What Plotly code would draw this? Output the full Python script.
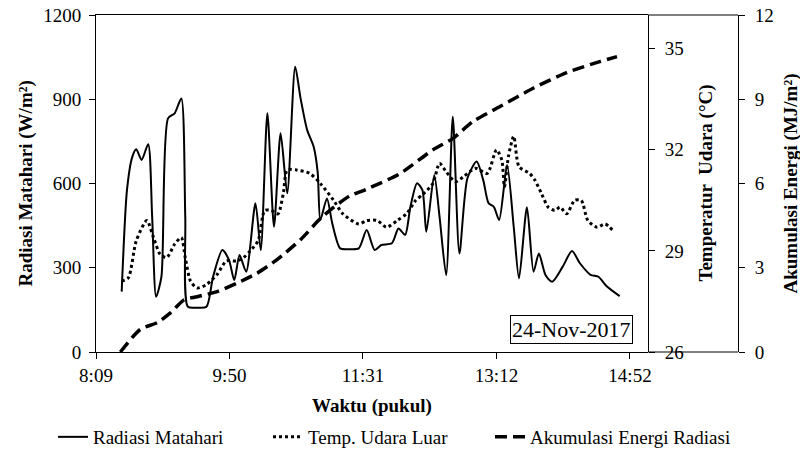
import plotly.graph_objects as go

# ---------------- data ----------------
rad_time = ["8:29", "8:33", "8:37", "8:40", "8:44", "8:49", "8:52", "8:55", "8:59", "9:04",
            "9:09", "9:14", "9:17", "9:19", "9:26", "9:33", "9:38", "9:45", "9:50", "9:54",
            "9:58", "10:03", "10:10", "10:14", "10:19", "10:24", "10:29", "10:34", "10:40", "10:44",
            "10:49", "10:54", "10:57", "10:59", "11:04", "11:08", "11:14", "11:21", "11:28", "11:34",
            "11:40", "11:45", "11:53", "11:58", "12:03", "12:07", "12:12", "12:16", "12:19", "12:25",
            "12:29", "12:34", "12:39", "12:44", "12:50", "12:57", "13:02", "13:06", "13:10", "13:14",
            "13:20", "13:25", "13:29", "13:35", "13:40", "13:44", "13:49", "13:54", "14:02", "14:09",
            "14:15", "14:23", "14:29", "14:35", "14:45"]
rad_val = [215, 577, 695, 722, 684, 740, 482, 197, 268, 832,
           850, 903, 482, 161, 158, 161, 268, 363, 328, 256,
           345, 286, 530, 363, 850, 446, 779, 565, 1016, 905,
           791, 730, 640, 470, 547, 458, 369, 366, 369, 434,
           363, 381, 387, 440, 417, 517, 601, 577, 428, 630,
           482, 274, 838, 351, 618, 678, 612, 530, 517, 470,
           666, 446, 262, 515, 286, 351, 274, 250, 304, 360,
           316, 275, 268, 235, 199]

temp_time = ["8:29", "8:34", "8:40", "8:48", "8:53", "8:58", "9:03", "9:09", "9:14", "9:17",
             "9:21", "9:26", "9:33", "9:41", "9:48", "9:56", "10:01", "10:06", "10:12", "10:17",
             "10:22", "10:27", "10:31", "10:34", "10:41", "10:51", "10:59", "11:09", "11:16", "11:28",
             "11:34", "11:42", "11:49", "11:57", "12:04", "12:11", "12:17", "12:24", "12:29", "12:34",
             "12:41", "12:47", "12:56", "13:05", "13:12", "13:16", "13:18", "13:21", "13:25", "13:29",
             "13:37", "13:41", "13:46", "13:51", "13:56", "14:00", "14:05", "14:11", "14:16", "14:21",
             "14:28", "14:34", "14:40"]
temp_val = [28.1, 28.2, 29.3, 29.9, 29.4, 28.9, 28.8, 29.2, 29.4, 28.8,
            28.1, 27.9, 28.0, 28.3, 28.7, 28.7, 28.8, 29.0, 29.3, 30.2,
            30.2, 30.1, 30.7, 31.4, 31.4, 31.3, 31.0, 30.5, 30.1, 29.8,
            29.9, 29.9, 29.7, 29.9, 30.1, 30.5, 30.7, 31.0, 31.6, 31.35,
            31.05, 31.2, 31.45, 31.3, 32.0, 31.7, 30.9, 31.8, 32.4, 31.5,
            31.3, 31.1, 30.7, 30.3, 30.2, 30.3, 30.1, 30.5, 30.5, 29.9,
            29.7, 29.8, 29.6]

energy_time = ["8:28", "8:43", "8:56", "9:06", "9:16", "9:26", "9:41", "9:56", "10:11", "10:26",
               "10:44", "10:59", "11:09", "11:21", "11:34", "11:59", "12:24", "12:39", "12:54", "13:15",
               "13:40", "14:05", "14:30", "14:43"]
energy_val = [0.0, 0.8, 1.05, 1.4, 1.85, 1.97, 2.15, 2.45, 2.8, 3.28,
              4.0, 4.75, 5.15, 5.55, 5.8, 6.35, 7.2, 7.6, 8.2, 8.75,
              9.4, 9.95, 10.34, 10.52]

x_tick_days = [0.34, 0.41, 0.48, 0.55, 0.62]
x_tick_labels = ["8:09", "9:50", "11:31", "13:12", "14:52"]
temp_ticks = [26, 29, 32, 35]


def to_min(t):
    h, m = t.split(":")
    return int(h) * 60 + int(m)


FONT = "Liberation Serif"
W_PLOT = 642.0  # px width of the plotting region (96 -> 738)


def px_x(p):
    return (p - 96) / W_PLOT


def px_y(p):
    return (352 - p) / 337.0


fig = go.Figure()
fig.add_trace(go.Scatter(
    x=[to_min(t) for t in rad_time], y=rad_val, name="Radiasi Matahari",
    mode="lines", line=dict(color="black", width=2, shape="spline", smoothing=0.7),
    yaxis="y", legend="legend"))
fig.add_trace(go.Scatter(
    x=[to_min(t) for t in temp_time], y=temp_val, name="Temp. Udara Luar",
    mode="lines", line=dict(color="black", width=3, dash="dot", shape="spline", smoothing=0.7),
    yaxis="y2", legend="legend2"))
fig.add_trace(go.Scatter(
    x=[to_min(t) for t in energy_time], y=energy_val, name="Akumulasi Energi Radiasi",
    mode="lines", line=dict(color="black", width=3.5, dash="12px,6px", shape="spline", smoothing=0.7),
    yaxis="y3", legend="legend3"))

XD = (648 - 96) / W_PLOT
tickfont = dict(family=FONT, size=19, color="black")
legfont = dict(family=FONT, size=19, color="black")


def leg(x_text_px):
    return dict(orientation="h", x=px_x(x_text_px - 40), xanchor="left",
                y=px_y(437), yanchor="middle", font=legfont,
                bgcolor="rgba(0,0,0,0)", borderwidth=0)


fig.update_layout(
    width=800, height=450,
    margin=dict(l=96, r=62, t=15, b=98, autoexpand=False),
    paper_bgcolor="white", plot_bgcolor="white",
    font=dict(family=FONT, size=19, color="black"),
    showlegend=True,
    legend=leg(93), legend2=leg(308), legend3=leg(530),
    xaxis=dict(domain=[0, XD], range=[489.6, 906.4],
               tickvals=[d * 1440 for d in x_tick_days], ticktext=x_tick_labels,
               showgrid=False, zeroline=False, showline=True, linecolor="black", linewidth=1,
               mirror=True, ticks="outside", ticklen=6, tickcolor="black",
               tickfont=tickfont, automargin=False),
    yaxis=dict(range=[0, 1200], dtick=300, showgrid=False, zeroline=False,
               showline=True, linecolor="black", linewidth=1,
               ticks="outside", ticklen=6, tickcolor="black", tickfont=tickfont,
               ticklabelstandoff=4, automargin=False),
    yaxis2=dict(range=[26, 36], tickvals=temp_ticks, overlaying="y", side="right",
                anchor="free", position=XD, showgrid=False, zeroline=False,
                showline=True, linecolor="black", linewidth=1,
                ticks="outside", ticklen=6, tickcolor="black", tickfont=tickfont,
                ticklabelstandoff=6, automargin=False),
    yaxis3=dict(range=[0, 12], dtick=3, overlaying="y", side="right",
                anchor="free", position=1.0, showgrid=False, zeroline=False,
                showline=True, linecolor="black", linewidth=1,
                ticks="outside", ticklen=6, tickcolor="black", tickfont=tickfont,
                ticklabelstandoff=6, automargin=False),
)

# extend the frame between the two right axes
for yy in (0, 1):
    fig.add_shape(type="line", xref="paper", yref="paper", x0=XD, x1=1, y0=yy, y1=yy,
                  line=dict(color="black", width=1))

bold = dict(family=FONT, size=19, color="black")
fig.add_annotation(text="<b>Radiasi Matahari (W/m²)</b>", xref="paper", yref="paper",
                   x=px_x(25), y=0.5, textangle=-90, showarrow=False, font=bold,
                   xanchor="center", yanchor="middle")
fig.add_annotation(text="<b>Waktu (pukul)</b>", xref="paper", yref="paper",
                   x=px_x(372), y=px_y(406), showarrow=False, font=bold,
                   xanchor="center", yanchor="middle")
fig.add_annotation(text="<b>Temperatur  Udara (°C)</b>", xref="paper", yref="paper",
                   x=px_x(705), y=0.5, textangle=-90, showarrow=False, font=bold,
                   xanchor="center", yanchor="middle")
fig.add_annotation(text="<b>Akumulasi Energi (MJ/m²)</b>", xref="paper", yref="paper",
                   x=px_x(790), y=0.5, textangle=-90, showarrow=False, font=bold,
                   xanchor="center", yanchor="middle")
fig.add_annotation(text="24-Nov-2017", xref="paper", yref="paper",
                   x=px_x(571), y=px_y(329), showarrow=False,
                   font=dict(family=FONT, size=22, color="black"),
                   bordercolor="black", borderwidth=1, borderpad=1,
                   bgcolor="white", xanchor="center", yanchor="middle")

fig.write_html("out.html")
